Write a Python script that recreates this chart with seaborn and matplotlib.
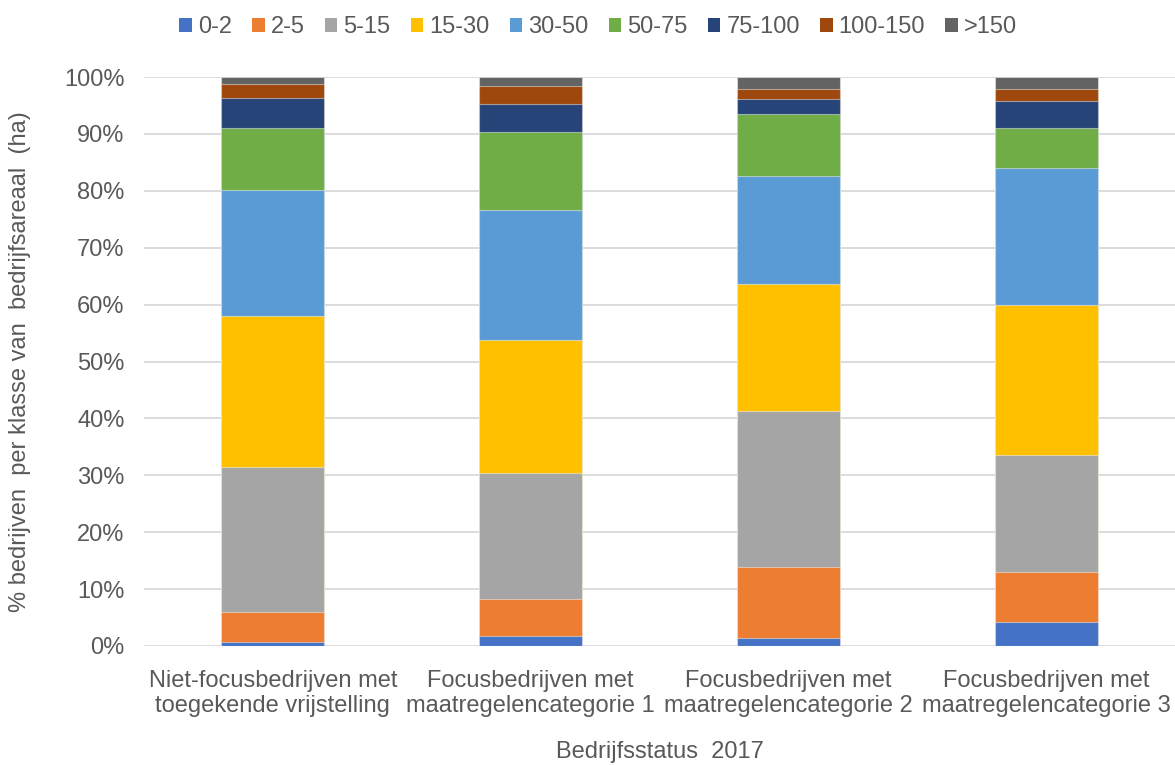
import matplotlib
matplotlib.use("Agg")
import matplotlib.pyplot as plt
from matplotlib.patches import Patch
from matplotlib.ticker import PercentFormatter
import pandas
import seaborn

STATUS = [
    "Niet-focusbedrijven met\ntoegekende vrijstelling",
    "Focusbedrijven met\nmaatregelencategorie 1",
    "Focusbedrijven met\nmaatregelencategorie 2",
    "Focusbedrijven met\nmaatregelencategorie 3",
]
KLASSEN = ["0-2", "2-5", "5-15", "15-30", "30-50", "50-75", "75-100", "100-150", ">150"]

# share (%) per size class, one list per class, in STATUS order
V_0_2 = [0.7, 1.8, 1.4, 4.2]
V_2_5 = [5.3, 6.5, 12.5, 8.8]
V_5_15 = [25.5, 22.1, 27.4, 20.6]
V_15_30 = [26.5, 23.4, 22.3, 26.3]
V_30_50 = [22.1, 22.8, 19.0, 24.1]
V_50_75 = [10.9, 13.7, 10.9, 7.0]
V_75_100 = [5.3, 5.0, 2.6, 4.8]
V_100_150 = [2.5, 3.1, 1.8, 2.1]
V_150 = [1.2, 1.6, 2.1, 2.1]
VALUES = [V_0_2, V_2_5, V_5_15, V_15_30, V_30_50, V_50_75, V_75_100, V_100_150, V_150]

PALETTE = ["#4472C4", "#ED7D31", "#A5A5A5", "#FFC000", "#5B9BD5",
           "#70AD47", "#264478", "#9E480E", "#636363"]

TEXT_COLOR = "#595959"
FONT = ["Liberation Sans", "DejaVu Sans"]
FS = 17


def draw_graph():
    seaborn.set_style("white")
    plt.rcParams["font.family"] = FONT

    rows = []
    for k, klasse in enumerate(KLASSEN):
        for s, status in enumerate(STATUS):
            rows.append([status, klasse, VALUES[k][s]])
    df = pandas.DataFrame(rows, columns=["status", "klasse", "value"])
    # normalise to 100% and build cumulative tops for stacking
    df["value"] = df["value"] / df.groupby("status")["value"].transform("sum")
    df["cum"] = df.groupby("status")["value"].cumsum()

    fig = plt.figure(figsize=(11.75, 7.65), dpi=100)
    ax = fig.add_axes([0.1226, 0.1556, 0.8774, 0.7437])

    # draw from the top class down so lower segments cover the upper bars
    for k in reversed(range(len(KLASSEN))):
        sub = df[df["klasse"] == KLASSEN[k]]
        seaborn.barplot(x="status", y="cum", data=sub, order=STATUS,
                        color=PALETTE[k], saturation=1, width=0.4,
                        errorbar=None, edgecolor=(1, 1, 1, 0.45),
                        linewidth=0.8, ax=ax)

    ax.set_ylim(0, 1)
    ax.set_yticks([i / 10 for i in range(11)])
    ax.yaxis.set_major_formatter(PercentFormatter(1, decimals=0))
    ax.yaxis.grid(True, color="#D9D9D9", linewidth=1.3)
    ax.set_axisbelow(True)
    for sp in ax.spines.values():
        sp.set_visible(False)
    ax.tick_params(axis="both", length=0, colors=TEXT_COLOR, labelsize=FS)
    ax.tick_params(axis="y", pad=14)
    ax.tick_params(axis="x", pad=17)

    ax.set_ylabel("% bedrijven  per klasse van  bedrijfsareaal  (ha)",
                  fontsize=FS, color=TEXT_COLOR, labelpad=24)
    ax.set_xlabel("Bedrijfsstatus  2017", fontsize=FS, color=TEXT_COLOR, labelpad=17)

    handles = [Patch(facecolor=c, edgecolor="none") for c in PALETTE]
    fig.legend(handles, KLASSEN, loc="upper center", bbox_to_anchor=(0.509, 1.007),
               ncol=9, frameon=False, fontsize=FS, labelcolor=TEXT_COLOR,
               handlelength=0.54, handleheight=0.54, handletextpad=0.25,
               columnspacing=0.85)

    fig.savefig("out.png", dpi=100)


draw_graph()
